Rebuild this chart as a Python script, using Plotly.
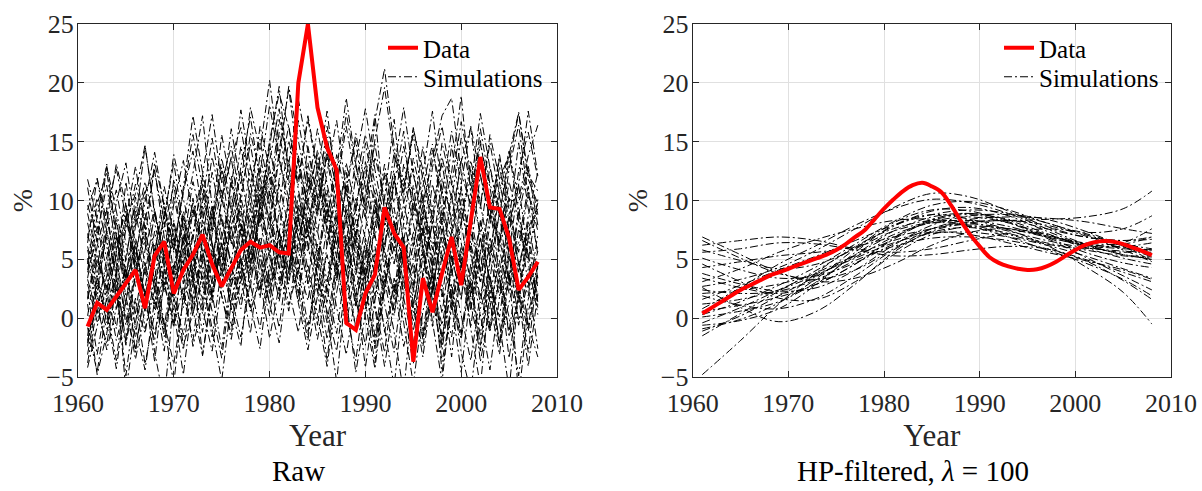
import plotly.graph_objects as go

years = list(range(1961, 2009))

data_raw = [-0.7, 1.3, 0.7, 1.8, 2.9, 4.1, 0.85, 5.3, 6.5, 2.1, 4.1, 5.4, 7.1, 4.6, 2.7, 4.3,
            5.8, 6.5, 6.0, 6.2, 5.6, 5.5, 20.0, 25.0, 17.9, 14.5, 12.6, -0.4, -1.0, 2.1, 3.7, 9.4,
            7.2, 6.0, -3.7, 3.4, 0.5, 3.8, 6.9, 2.8, 8.5, 13.7, 9.4, 9.3, 6.8, 2.4, 3.5, 4.8]

data_hp = [0.4, 0.9, 1.4, 1.9, 2.4, 2.8, 3.2, 3.6, 3.9, 4.2, 4.5, 4.8, 5.1, 5.4, 5.8, 6.3,
           6.9, 7.5, 8.4, 9.3, 10.1, 10.8, 11.3, 11.5, 11.2, 10.7, 9.6, 8.3, 7.1, 6.1, 5.2, 4.7,
           4.4, 4.2, 4.1, 4.15, 4.4, 4.8, 5.3, 5.8, 6.2, 6.45, 6.55, 6.5, 6.3, 6.0, 5.7, 5.35]

s01 = [8.9, 5.2, 2.1, 6.8, 3.4, 9.1, 4.6, 1.2, 5.7, 8.3, 3.9, 7.2, 11.4, 6.1, 2.8, 7.9,
       10.3, 6.6, 12.8, 9.4, 5.1, 8.7, 13.5, 7.2, 4.3, 9.8, 6.2, 11.1, 3.7, 7.6, 10.9, 5.4,
       2.2, 8.1, 4.9, 9.6, 6.3, 1.8, 7.4, 11.2, 5.9, 3.1, 8.8, 6.4, 10.2, 4.5, 7.7, 9.3]
s02 = [-1.5, 3.8, 6.9, 0.7, 4.2, -2.9, 2.6, 7.4, 3.1, -0.8, 5.5, 9.2, 4.7, 1.3, 6.8, 10.4,
       7.1, 3.6, 9.9, 12.5, 6.4, 2.9, 8.3, 5.6, 11.7, 7.3, 3.2, 8.6, 1.1, 5.9, -1.7, 4.4,
       8.2, 2.7, 6.1, 10.6, 3.9, -2.4, 5.3, 1.6, 7.8, 4.1, -0.9, 6.6, 3.3, 9.4, 2.5, 5.7]
s03 = [4.6, 9.7, 12.4, 7.3, 3.5, 8.2, 14.6, 9.1, 5.3, 11.8, 7.6, 3.1, 9.9, 15.3, 10.2, 6.4,
       12.9, 17.1, 11.6, 8.3, 14.2, 19.5, 13.1, 9.6, 7.2, 12.4, 16.8, 10.7, 6.9, 13.3, 9.5, 5.8,
       11.4, 15.9, 8.7, 12.2, 17.6, 10.8, 7.3, 13.6, 9.2, 14.8, 11.1, 6.5, 12.7, 16.4, 10.3, 8.6]
s04 = [2.3, -3.1, 1.8, 5.4, -0.6, 3.7, 7.9, 2.2, -2.8, 4.1, 8.6, 3.3, 0.4, 6.2, 1.9, -1.4,
       5.7, 9.8, 4.6, 1.2, 7.4, 3.8, 10.6, 6.1, 2.4, -3.6, 3.9, 7.1, 2.6, -4.2, 1.5, 6.3,
       9.4, 4.2, -1.1, 3.6, 8.1, 2.9, -3.3, 4.7, 0.8, 6.9, 3.2, -2.1, 5.4, 1.7, 8.3, 3.4]
s05 = [6.4, 11.9, 8.2, 13.1, 9.6, 4.8, 10.7, 12.4, 8.3, 13.9, 10.1, 6.7, 12.2, 17.3, 11.5, 14.6,
       9.8, 15.7, 12.3, 18.1, 13.4, 10.2, 16.8, 12.1, 8.6, 14.3, 11.2, 17.4, 12.9, 9.1, 15.2, 19.6,
       13.8, 10.4, 16.1, 12.6, 8.4, 14.9, 11.3, 16.7, 12.4, 9.3, 15.6, 11.8, 13.9, 17.5, 12.2, 10.8]
s06 = [-3.8, 0.9, -2.2, 2.7, -4.9, 1.4, -1.3, 3.6, -0.7, -5.6, 2.1, -1.9, 4.3, 0.6, -3.4, 2.8,
       5.2, 1.1, -2.6, 3.9, 7.3, 2.4, -1.2, 4.6, 0.3, -4.1, 2.2, 6.4, 1.6, -2.3, 3.3, -0.9,
       -5.8, 1.9, 4.7, -1.6, 2.4, -3.7, 0.8, 5.1, 1.2, -2.8, 3.6, -0.4, -6.1, 2.3, -1.1, 3.8]
s07 = [9.6, 7.1, 11.3, 5.8, 8.4, 12.9, 7.6, 3.2, 9.1, 5.6, 10.8, 14.2, 8.9, 4.4, 10.1, 13.7,
       16.2, 11.4, 7.8, 13.3, 17.8, 12.7, 8.2, 14.6, 10.3, 6.2, 12.1, 8.7, 4.1, 10.6, 14.8, 9.3,
       5.7, 11.9, 8.1, 3.6, 9.4, 13.2, 7.9, 4.3, 10.8, 15.1, 9.7, 6.2, 11.6, 8.3, 4.9, 10.1]
s08 = [0.2, 4.9, 2.6, 8.1, 3.9, 0.4, 5.8, 9.3, 4.7, 1.5, 7.2, 3.4, -1.2, 5.1, 8.8, 4.3,
       1.6, 6.9, 10.7, 5.2, 2.3, 8.1, 4.6, 11.9, 7.4, 3.1, 9.2, 5.6, 0.9, 6.8, 3.7, 8.9,
       12.3, 6.1, 2.8, 7.9, 4.2, 9.6, 5.3, 1.7, 7.3, 3.9, 10.4, 5.8, 2.1, 7.6, 4.7, 0.3]
s09 = [5.1, 1.8, 7.6, 10.9, 6.3, 2.7, 8.9, 5.4, 11.2, 7.1, 2.9, 9.3, 6.6, 12.4, 8.2, 4.7,
       10.6, 14.8, 9.7, 6.1, 11.8, 16.4, 10.9, 7.3, 13.2, 9.4, 5.2, 11.6, 15.1, 8.8, 4.6, 10.2,
       6.9, 13.1, 9.6, 5.3, 11.4, 7.8, 14.7, 9.1, 5.8, 12.2, 8.4, 13.9, 9.2, 5.6, 10.7, 7.4]
s10 = [3.4, 7.8, 4.1, -0.9, 5.2, 9.6, 6.3, 2.4, 7.7, 11.3, 5.9, 2.6, 8.4, 4.8, 10.1, 13.6,
       8.3, 4.9, 11.2, 7.6, 13.8, 9.1, 5.6, 12.3, 8.9, 14.1, 9.5, 4.8, 10.3, 6.7, 1.9, 7.6,
       11.8, 6.4, 2.2, 8.7, 5.1, 10.9, 3.6, 7.9, 12.6, 6.8, 3.3, 9.1, 5.4, 1.2, 6.9, 9.8]
s11 = [7.2, 3.6, -0.4, 4.3, 8.7, 3.9, 0.6, 6.2, 2.8, 8.1, 4.5, 10.2, 5.7, 1.9, 7.4, 3.2,
       9.1, 5.3, 12.1, 8.2, 4.1, 10.4, 6.8, 2.9, 9.8, 13.7, 8.4, 3.6, 9.7, 12.9, 7.1, 2.5,
       8.3, 4.6, 10.1, 6.3, 0.7, 5.9, 10.6, 4.2, -0.8, 5.7, 9.4, 3.8, 8.1, 11.3, 5.2, 1.4]
s12 = [1.7, 6.1, 9.4, 3.2, -1.8, 4.9, 2.1, -3.7, 3.4, 6.8, 0.9, 5.3, 2.6, 8.4, 12.6, 6.7,
       3.8, 9.3, 5.9, 10.8, 7.2, 13.4, 8.8, 4.2, -0.6, 6.3, 10.9, 5.7, 9.3, 3.4, 7.8, 12.1,
       6.6, 2.1, 7.4, -1.3, 4.4, 8.6, 1.9, 6.1, 3.5, -2.4, 4.8, 8.9, 2.7, 6.4, 11.2, 5.3]
s13 = [11.8, 8.4, 5.1, 9.8, 13.2, 7.9, 11.6, 8.1, 4.3, 9.7, 13.4, 8.6, 11.9, 7.3, 12.8, 9.2,
       14.6, 10.1, 16.3, 12.7, 9.4, 15.1, 11.3, 17.2, 12.6, 8.1, 13.9, 10.5, 15.7, 11.2, 6.8, 12.4,
       9.8, 14.6, 10.2, 6.9, 12.8, 16.3, 11.5, 8.2, 13.4, 9.6, 14.9, 10.3, 7.1, 12.5, 15.8, 11.9]
s14 = [-2.4, 2.9, 0.4, -4.3, 1.6, 5.3, -0.9, 2.4, 6.7, 1.3, -2.7, 3.6, 7.9, 2.8, 5.6, 0.7,
       4.2, 8.5, 3.7, 0.2, 5.9, 9.8, 4.4, 1.5, 6.3, 2.4, -1.3, 4.8, 8.4, 3.1, -2.2, 2.7,
       6.1, 0.8, -3.9, 3.2, -0.7, 5.4, 1.3, -4.6, 2.3, 6.8, 1.4, -3.1, 3.7, -0.6, 4.2, 0.9]
s15 = [4.1, 8.6, 13.1, 6.9, 2.7, 7.8, 10.9, 5.6, 9.8, 3.7, 8.2, 12.3, 17.2, 9.4, 5.2, 11.6,
       7.4, 12.9, 8.1, 14.6, 19.7, 11.8, 7.3, 13.2, 9.1, 15.4, 10.7, 6.3, 12.1, 8.4, 13.7, 10.2,
       16.9, 9.7, 6.1, 11.2, 14.8, 8.7, 12.4, 18.9, 10.6, 7.2, 12.9, 9.1, 5.7, 11.4, 17.6, 12.1]
s16 = [2.9, -0.3, 3.6, 7.1, 1.8, -1.6, 4.7, 0.8, 5.4, 2.3, 6.9, 1.1, 4.8, 9.2, 3.5, 7.8,
       2.9, 6.4, 1.7, 7.3, 3.2, 8.7, 13.8, 9.1, 5.4, 1.2, 7.7, 3.9, -0.8, 5.2, 9.9, 4.1,
       0.6, 6.7, 2.8, 7.6, 3.1, -1.9, 4.5, 8.2, 2.6, -1.4, 5.1, 1.9, 7.2, 2.8, -0.7, 4.6]
s17 = [6.8, 10.2, 6.1, 2.2, 7.6, 11.4, 8.2, 12.6, 6.9, 3.1, 8.7, 5.2, 10.6, 6.4, 2.7, 8.9,
       12.4, 7.5, 13.9, 9.6, 15.8, 11.1, 6.6, 10.8, 16.1, 11.4, 7.6, 13.2, 9.1, 14.9, 10.3, 6.2,
       11.7, 8.3, 13.6, 9.9, 5.8, 11.9, 8.4, 13.3, 16.2, 9.7, 5.3, 10.6, 14.2, 8.8, 12.6, 7.9]
s18 = [-0.8, -4.6, 0.9, 3.8, -2.1, 1.7, -3.9, 0.4, 4.1, -0.6, 2.7, -2.4, 1.3, 5.7, 1.9, -1.8,
       3.4, 7.1, 2.5, 5.8, 1.4, 6.6, 2.1, 8.4, 3.6, -0.4, 4.9, 0.8, -3.6, 2.6, 6.1, 1.2,
       -2.9, 3.7, -0.3, 5.2, 1.6, -2.7, 2.9, -1.4, 4.6, 0.3, -4.4, 1.8, 5.3, -0.2, 3.1, -2.6]
s19 = [8.1, 4.4, 9.2, 12.7, 8.6, 5.3, 9.9, 14.1, 9.4, 6.2, 10.7, 15.6, 11.1, 7.4, 13.6, 9.7,
       5.8, 11.3, 15.2, 10.4, 16.9, 13.1, 18.6, 14.2, 10.1, 16.3, 12.2, 8.1, 13.4, 17.8, 12.6, 8.4,
       14.1, 10.7, 16.2, 11.8, 7.9, 13.7, 10.1, 15.3, 11.2, 17.4, 12.8, 8.6, 14.1, 10.2, 13.8, 16.4]
s20 = [3.9, 6.8, 1.4, 5.6, 9.8, 4.2, 7.3, 3.1, -1.6, 4.2, 9.1, 4.9, 1.6, 7.1, 10.9, 6.3,
       9.6, 4.1, 8.6, 11.9, 6.7, 3.2, 9.4, 6.9, 12.4, 7.8, 3.4, 9.2, 6.1, 1.7, 8.1, 13.1,
       8.2, 4.3, 9.1, 14.6, 8.7, 4.8, 10.3, 6.4, 1.8, 8.3, 5.1, 11.6, 7.4, 3.9, 8.7, 12.4]
s21 = [1.2, -4.8, -1.3, 3.4, -6.2, -0.4, 4.6, -2.9, -7.1, 1.8, -1.4, 4.3, -3.2, 2.1, 6.4, 0.9,
       -2.4, 4.7, 8.9, 3.1, -0.8, 5.6, 2.2, -1.9, 4.8, 0.3, -5.4, 2.9, 7.2, 1.4, -3.8, 3.3,
       -1.2, -6.4, 2.6, -1.8, 3.9, -4.6, 1.1, 5.7, -0.9, -5.8, 2.4, -2.3, 4.1, -6.7, 0.6, 3.2]
s22 = [5.8, 2.3, 7.4, 3.8, 11.6, 6.2, 1.9, 5.1, 8.6, 13.2, 7.8, 4.1, 9.6, 6.2, 3.9, 12.1,
       7.9, 2.6, 9.1, 14.8, 9.6, 6.3, 3.6, 9.8, 14.3, 9.9, 5.1, 11.3, 7.1, 11.9, 17.3, 8.9,
       4.6, 9.8, 12.7, 7.2, 3.4, 8.6, 6.9, 10.9, 6.3, 3.1, 7.9, 12.9, 8.2, 14.9, 9.3, 5.8]
s23 = [9.2, 11.8, 7.4, 3.6, 8.1, 10.6, 14.7, 8.8, 5.2, 10.3, 6.4, 11.6, 8.2, 13.7, 9.9, 16.1,
       11.3, 17.9, 14.2, 20.2, 13.6, 19.7, 15.1, 10.8, 13.9, 8.6, 12.6, 18.7, 13.1, 9.4, 16.8, 21.2,
       14.6, 11.2, 15.6, 9.8, 13.4, 17.2, 18.7, 12.3, 9.7, 16.1, 11.4, 8.9, 13.3, 17.4, 11.8, 9.7]
s24 = [11.1, 6.4, 12.9, 9.1, 4.9, 10.3, 6.7, 13.2, 9.6, 5.8, 11.1, 17.2, 12.4, 8.3, 15.6, 11.1,
       17.7, 12.9, 9.4, 15.1, 19.1, 16.2, 11.8, 16.9, 12.3, 17.6, 11.1, 16.3, 11.6, 15.6, 11.4, 7.9,
       12.8, 17.9, 12.2, 8.6, 14.3, 10.6, 15.9, 11.4, 16.3, 12.1, 8.4, 13.6, 10.1, 9.8, 12.9, 8.8]
s25 = [-2.1, 3.4, 0.8, -3.6, 2.9, 6.1, 1.3, -1.9, 4.2, 0.6, -4.8, 1.9, 5.8, 2.1, -2.6, 3.7,
       7.4, 2.8, -0.9, 4.6, 1.8, 6.9, 3.1, -1.4, 5.1, 9.3, 3.9, -0.6, 4.4, 0.2, -4.3, 2.6,
       7.1, 1.7, -2.2, 3.8, 8.2, 2.1, -1.6, 4.9, 0.7, 5.6, -0.8, 3.6, -3.4, 2.2, 6.8, 1.1]
s26 = [3.3, 0.4, 5.1, 1.9, -2.3, 3.8, 6.7, 2.6, -0.7, 4.6, 1.8, 7.1, 3.2, -1.6, 4.4, 9.1,
       4.8, 0.9, 6.3, 2.7, 9.2, 5.1, 1.4, 7.8, 3.2, -1.8, 4.7, 0.3, 6.6, 2.8, -2.6, 3.9,
       0.2, 5.8, 1.4, -3.3, 2.6, 6.9, 1.7, -1.8, 3.7, 8.1, 2.9, 0.1, 6.1, 2.4, -2.9, 4.4]
s27 = [-4.2, -0.6, 2.8, -1.9, 1.4, -3.5, 0.7, 4.3, -0.4, -3.9, 1.6, 5.4, 0.8, -2.8, 2.9, -0.7,
       3.6, -1.3, 5.3, 1.2, -2.1, 4.1, 8.6, 3.1, -1.8, 2.9, 7.3, 1.6, -4.6, 0.4, 4.8, -1.2,
       2.9, -2.4, 1.1, 5.6, -0.3, -5.4, 1.9, -1.3, 3.2, -3.7, 0.9, 4.9, -1.6, 1.8, -4.1, 2.1]
s28 = [1.6, 5.3, 2.4, 6.2, 9.1, 3.8, 0.6, 4.9, 8.2, 3.1, 6.6, 1.4, 5.2, 9.6, 4.2, 1.3,
       6.1, 10.6, 5.6, 2.1, 7.3, 4.1, 9.7, 6.4, 2.2, 7.9, 4.1, 9.6, 5.3, 0.8, 5.6, 2.1,
       8.3, 4.7, 0.9, 6.2, 2.4, 7.6, 4.1, 9.4, 5.2, 1.3, 6.9, 3.4, -1.1, 4.3, 7.2, 2.6]
s29 = [-1.9, 1.3, -2.7, 0.9, 4.4, -0.8, -4.4, 1.6, -1.1, 2.9, -2.3, 0.4, 3.6, -0.9, -5.3, 1.4,
       4.9, 0.6, 3.3, -1.7, 2.8, 6.2, 1.3, -2.7, 1.9, 5.4, 0.9, -3.1, 2.2, 6.4, 1.1, -2.9,
       3.4, -0.4, -5.6, 0.6, 4.1, -1.6, 2.7, -2.9, -6.3, 0.8, 3.6, -2.1, 1.4, 4.8, -0.6, -3.3]
s30 = [4.9, 1.1, 4.4, 8.6, 2.9, 6.4, 1.9, 5.9, 2.2, 7.9, 3.6, 0.2, 6.7, 3.1, 8.4, 4.6,
       0.8, 5.9, 2.4, 8.9, 4.3, 0.6, 6.6, 10.2, 5.8, 2.1, 8.2, 12.4, 6.3, 3.2, 10.1, 5.1,
       1.6, 6.9, 3.7, 9.2, 4.8, 0.4, 6.3, 2.9, 8.8, 4.1, 1.4, 7.4, 3.1, 8.9, 5.4, 1.9]
s31 = [-3.1, 1.8, -0.9, 3.9, 0.2, -2.6, 2.4, -1.3, 2.8, -0.4, 4.9, 0.7, -3.1, 2.6, 6.3, 1.8,
       -1.6, 3.1, 6.8, 2.2, 5.9, 1.1, 4.2, -0.6, 3.4, 0.6, -2.8, 3.1, -0.9, 4.3, 0.8, -4.1,
       1.4, 5.1, 0.6, -2.4, 2.9, -0.6, 4.1, 0.2, -3.6, 2.1, -1.2, 3.4, 0.1, -4.9, 1.6, 4.4]
s32 = [6.1, 2.9, 8.4, 4.6, 1.3, 6.8, 3.7, 8.9, 5.2, 1.9, 6.1, 9.8, 5.4, 1.6, 6.3, 2.6,
       8.1, 4.4, 9.6, 5.3, 11.4, 7.6, 3.9, 8.6, 4.7, 10.9, 6.2, 2.3, 7.4, 3.6, 9.2, 5.8,
       2.1, 6.6, 11.3, 5.9, 2.2, 7.6, 4.8, 10.1, 5.6, 1.8, 6.3, 2.4, 8.9, 4.6, 1.9, 7.1]
raw_sims = [s01, s02, s03, s04, s05, s06, s07, s08, s09, s10, s11, s12, s13, s14, s15, s16,
            s17, s18, s19, s20, s21, s22, s23, s24, s25, s26, s27, s28, s29, s30, s31, s32]

hp_years = [1961, 1965, 1969, 1973, 1977, 1981, 1985, 1989, 1993, 1997, 2001, 2005, 2008]
h01 = [5.8, 4.9, 4.2, 4.6, 5.9, 7.4, 8.1, 7.9, 7.2, 6.4, 5.8, 5.3, 5.1]
h02 = [1.2, 1.6, 2.4, 3.7, 5.2, 6.9, 8.2, 8.6, 8.1, 7.1, 6.0, 5.1, 4.6]
h03 = [-1.5, 0.4, 2.3, 4.1, 6.0, 7.8, 9.1, 9.4, 8.7, 7.4, 6.3, 6.1, 6.4]
h04 = [3.4, 2.6, 2.1, 2.9, 4.6, 6.8, 8.4, 8.9, 8.3, 7.2, 6.1, 5.6, 5.8]
h05 = [6.9, 5.4, 3.9, 3.1, 3.4, 4.6, 6.2, 7.3, 7.6, 7.1, 6.2, 5.4, 5.0]
h06 = [-4.8, -1.9, 1.2, 3.9, 6.1, 7.6, 8.3, 8.1, 7.4, 6.6, 6.0, 5.7, 5.6]
h07 = [0.3, 1.4, 2.8, 4.4, 6.3, 8.2, 9.6, 9.9, 9.2, 8.1, 7.3, 7.6, 8.7]
h08 = [2.1, 2.4, 2.9, 3.8, 5.1, 6.4, 7.2, 7.3, 6.9, 6.2, 5.3, 4.2, 3.4]
h09 = [4.6, 3.1, 1.7, 1.6, 3.1, 5.4, 7.1, 7.8, 7.6, 7.0, 6.4, 6.3, 6.9]
h10 = [0.8, 2.6, 4.6, 6.2, 7.9, 9.3, 10.1, 9.8, 8.9, 7.6, 6.3, 5.4, 5.2]
h11 = [-0.9, -0.1, 1.3, 3.4, 5.9, 8.1, 9.2, 9.1, 8.2, 6.9, 5.6, 4.7, 4.3]
h12 = [3.1, 4.2, 5.6, 6.7, 7.6, 8.3, 8.4, 7.8, 6.9, 5.8, 4.7, 3.3, 1.9]
h13 = [6.2, 6.6, 6.9, 6.6, 5.9, 5.6, 5.9, 6.6, 7.2, 7.6, 7.2, 6.1, 5.2]
h14 = [1.9, 1.1, 0.8, 1.7, 3.6, 5.8, 7.3, 7.7, 7.1, 6.3, 5.9, 6.4, 7.6]
h15 = [2.7, 3.3, 4.3, 5.8, 7.6, 9.4, 10.6, 10.3, 9.1, 7.8, 6.9, 6.6, 6.9]
h16 = [-0.4, 0.9, 2.4, 3.9, 5.3, 6.6, 7.3, 7.1, 6.4, 5.6, 4.9, 4.1, 3.3]
h17 = [5.1, 4.1, 3.4, 3.6, 4.7, 6.3, 7.6, 8.2, 8.3, 8.4, 8.6, 9.3, 10.8]
h18 = [0.6, 1.1, 1.8, 2.9, 4.6, 6.7, 8.3, 8.8, 8.1, 6.8, 5.2, 3.6, 2.4]
h19 = [6.6, 5.1, 3.8, 3.3, 4.1, 5.9, 7.6, 8.4, 8.6, 8.5, 8.2, 7.6, 7.2]
h20 = [3.8, 2.9, 2.3, 2.6, 4.1, 6.2, 7.9, 8.7, 8.8, 8.4, 7.4, 6.1, 4.9]
h21 = [0.1, 0.6, 1.4, 3.1, 5.4, 7.4, 8.6, 8.9, 8.4, 7.6, 6.9, 6.6, 6.7]
h22 = [2.4, 2.1, 2.3, 3.3, 4.9, 6.1, 6.8, 6.9, 6.6, 5.9, 4.9, 3.2, 1.6]
h23 = [-1.1, 0.2, 1.9, 3.6, 5.4, 7.1, 8.1, 8.3, 7.8, 6.9, 6.2, 5.9, 5.8]
h24 = [4.3, 4.8, 5.3, 5.6, 6.1, 6.9, 7.6, 8.1, 8.3, 7.9, 7.0, 5.8, 4.8]
h25 = [1.6, 2.8, 4.1, 5.3, 6.6, 7.9, 8.8, 9.2, 8.9, 8.1, 7.1, 6.3, 5.9]
h26 = [-0.6, -0.2, 0.8, 2.9, 5.6, 7.9, 8.8, 8.4, 7.5, 6.2, 4.4, 2.2, -0.5]
h27 = [5.6, 5.9, 6.4, 6.3, 5.8, 5.3, 5.4, 5.8, 6.1, 5.9, 5.0, 3.9, 3.1]
h28 = [2.6, 0.9, -0.3, 0.6, 2.9, 5.6, 7.4, 8.0, 7.6, 6.9, 6.3, 6.0, 5.8]
hp_sims = [h01, h02, h03, h04, h05, h06, h07, h08, h09, h10, h11, h12, h13, h14,
           h15, h16, h17, h18, h19, h20, h21, h22, h23, h24, h25, h26, h27, h28]

x_ticks = [1960, 1970, 1980, 1990, 2000, 2010]
y_ticks = [-5, 0, 5, 10, 15, 20, 25]

W, H = 1202, 491
FONT = "Liberation Serif"
AX = "#262626"
DASH = "8px,3px,2px,3px"

def px(xp):
    return xp / W

def py(yp):
    return 1 - yp / H

fig = go.Figure()

for k, s in enumerate(raw_sims):
    fig.add_trace(go.Scatter(x=years, y=s, mode="lines", xaxis="x", yaxis="y",
                             line=dict(color="black", width=1, dash=DASH),
                             name="Simulations", legend="legend3",
                             showlegend=(k == 0), hoverinfo="skip"))
fig.add_trace(go.Scatter(x=years, y=data_raw, mode="lines", xaxis="x", yaxis="y",
                         line=dict(color="#ff0000", width=4),
                         name="Data", legend="legend"))

for k, s in enumerate(hp_sims):
    fig.add_trace(go.Scatter(x=hp_years, y=s, mode="lines", xaxis="x2", yaxis="y2",
                             line=dict(color="black", width=1, dash=DASH, shape="spline", smoothing=1.0),
                             name="Simulations", legend="legend4",
                             showlegend=(k == 0), hoverinfo="skip"))
fig.add_trace(go.Scatter(x=years, y=data_hp, mode="lines", xaxis="x2", yaxis="y2",
                         line=dict(color="#ff0000", width=4, shape="spline"),
                         name="Data", legend="legend2"))

ydom = [py(377), py(24)]
xdom1 = [px(78), px(557)]
xdom2 = [px(692.7), px(1171)]

def xaxis(dom, anchor):
    return dict(domain=dom, anchor=anchor, range=[1960, 2010], tickvals=x_ticks,
                ticks="inside", ticklen=6, tickcolor=AX, showline=True, linecolor=AX,
                linewidth=1, mirror="ticks", showgrid=True, gridcolor="#e0e0e0",
                zeroline=False, automargin=False, ticklabelstandoff=3,
                ticklabeloverflow="allow",
                tickfont=dict(family=FONT, size=26, color=AX),
                title=dict(text="Year", font=dict(family=FONT, size=31, color=AX), standoff=4))

def yaxis(anchor):
    return dict(domain=ydom, anchor=anchor, range=[-5, 25], tickvals=y_ticks,
                ticks="inside", ticklen=6, tickcolor=AX, showline=True, linecolor=AX,
                linewidth=1, mirror="ticks", showgrid=True, gridcolor="#e0e0e0",
                zeroline=False, automargin=False, ticklabelstandoff=-2,
                ticklabeloverflow="allow",
                tickfont=dict(family=FONT, size=26, color=AX),
                title=dict(text="%", font=dict(family=FONT, size=28, color=AX), standoff=5))

def leg(xp, yp):
    return dict(x=px(xp), y=py(yp), xanchor="left", yanchor="middle",
                font=dict(family=FONT, size=25, color="black"), bgcolor="rgba(255,255,255,0)",
                borderwidth=0, itemwidth=30)

fig.update_layout(
    width=W, height=H, margin=dict(l=0, r=0, t=0, b=0),
    paper_bgcolor="white", plot_bgcolor="white",
    xaxis=xaxis(xdom1, "y"), yaxis=yaxis("x"),
    xaxis2=xaxis(xdom2, "y2"), yaxis2=yaxis("x2"),
    legend=leg(383, 48), legend3=leg(383, 77),
    legend2=leg(999, 48), legend4=leg(999, 77),
    annotations=[
        dict(text="Raw", x=px(298), y=py(471), xref="paper", yref="paper",
             xanchor="center", yanchor="middle", showarrow=False,
             font=dict(family=FONT, size=29, color="black")),
        dict(text="HP-filtered, <i>λ</i> = 100", x=px(913), y=py(471),
             xref="paper", yref="paper", xanchor="center", yanchor="middle", showarrow=False,
             font=dict(family=FONT, size=29, color="black")),
    ],
    showlegend=True,
)

# remove the default 8px page margin so the 1202x491 figure fills the window exactly
fig.write_html("out.html", config={"displayModeBar": False},
               post_script="document.body.style.margin='0px';")
